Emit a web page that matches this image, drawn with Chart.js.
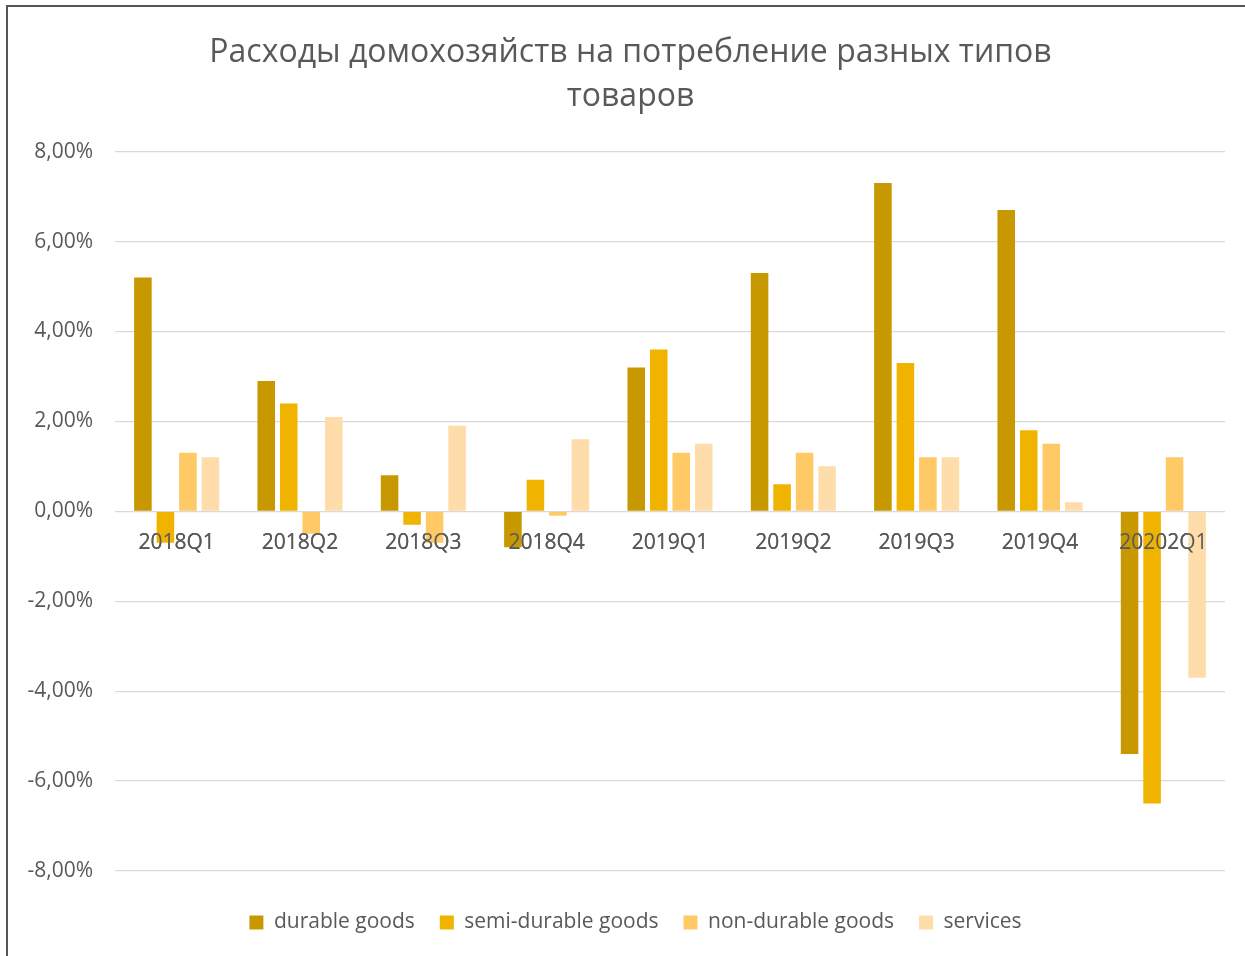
<!DOCTYPE html>
<html>
<head>
<meta charset="utf-8">
<script src="https://cdn.jsdelivr.net/npm/chart.js@4"></script>
<style>
  html, body { margin: 0; padding: 0; background: #fff; }
  #frame { position: absolute; left: 6px; top: 5px; width: 1300px; height: 1000px;
           border-left: 2px solid #555; border-top: 2px solid #555; }
  #wrap { position: absolute; left: 0; top: 0; width: 1245px; height: 956px; }
</style>
</head>
<body>
<div id="frame"></div>
<div id="wrap"><canvas id="chart"></canvas></div>
<script>
// кварталы
const quarters = ['2018Q1', '2018Q2', '2018Q3', '2018Q4', '2019Q1', '2019Q2', '2019Q3', '2019Q4', '20202Q1'];
// значения в процентах
const durableGoods = [5.2, 2.9, 0.8, -0.8, 3.2, 5.3, 7.3, 6.7, -5.4];
const semiDurableGoods = [-0.7, 2.4, -0.3, 0.7, 3.6, 0.6, 3.3, 1.8, -6.5];
const nonDurableGoods = [1.3, -0.5, -0.7, -0.1, 1.3, 1.3, 1.2, 1.5, 1.2];
const services = [1.2, 2.1, 1.9, 1.6, 1.5, 1.0, 1.2, 0.2, -3.7];
const yTicks = [-8, -6, -4, -2, 0, 2, 4, 6, 8];

const fontName = '"Open Sans", sans-serif';
const textColor = '#595959';

function makeSet(label, data, color) {
    return {
        label: label,
        data: data,
        backgroundColor: color,
        borderWidth: 0,
        barPercentage: 0.78,
        categoryPercentage: 0.73
    };
}

// подписи категорий поверх столбцов, как в Excel
const labelsOnTop = {
    id: 'labelsOnTop',
    afterDatasetsDraw(chart) {
        chart.scales.x.drawLabels(chart.chartArea);
    }
};

// заголовок и легенда в Excel чуть правее центра холста
const shiftBlocks = {
    id: 'shiftBlocks',
    afterLayout(chart) {
        if (chart.titleBlock) { chart.titleBlock.left += 18; chart.titleBlock.right += 18; }
        if (chart.legend) { chart.legend.left += 23; chart.legend.right += 23; }
    }
};

const ctx = document.getElementById('chart').getContext('2d');
new Chart(ctx, {
    type: 'bar',
    data: {
        labels: quarters,
        datasets: [
            makeSet('durable goods', durableGoods, '#C89800'),
            makeSet('semi-durable goods', semiDurableGoods, '#F0B400'),
            makeSet('non-durable goods', nonDurableGoods, '#FFC966'),
            makeSet('services', services, '#FFDDAA')
        ]
    },
    plugins: [labelsOnTop, shiftBlocks],
    options: {
        responsive: true,
        maintainAspectRatio: false,
        animation: false,
        layout: { padding: { left: 0, right: 20, top: 10, bottom: 13 } },
        plugins: {
            title: {
                display: true,
                text: ['Расходы домохозяйств на потребление разных типов', 'товаров'],
                color: textColor,
                font: { family: fontName, size: 32, weight: 'normal', lineHeight: 1.4 },
                padding: { top: 20, bottom: 32 }
            },
            legend: {
                position: 'bottom',
                title: {
                    display: true,
                    text: ' ',
                    font: { size: 10 },
                    padding: { top: 4, bottom: 0 }
                },
                labels: {
                    color: textColor,
                    font: { family: fontName, size: 21 },
                    boxWidth: 14,
                    boxHeight: 14,
                    padding: 25
                }
            },
            tooltip: { enabled: false }
        },
        scales: {
            x: {
                position: { y: 0 },
                grid: { display: false, drawTicks: false },
                border: { display: false },
                ticks: {
                    color: textColor,
                    font: { family: fontName, size: 21 },
                    padding: 19,
                    maxRotation: 0,
                    autoSkip: false
                }
            },
            y: {
                min: yTicks[0],
                max: yTicks[yTicks.length - 1],
                afterBuildTicks: function(scale) {
                    scale.ticks = yTicks.map(v => ({ value: v }));
                },
                afterFit: function(scale) { scale.width = 115; },
                grid: { color: '#D9D9D9', lineWidth: 1.3, drawTicks: false },
                border: { display: false },
                ticks: {
                    color: textColor,
                    font: { family: fontName, size: 21 },
                    padding: 22,
                    callback: function(v) { return v.toFixed(2).replace('.', ',') + '%'; }
                }
            }
        }
    }
});
</script>
</body>
</html>
